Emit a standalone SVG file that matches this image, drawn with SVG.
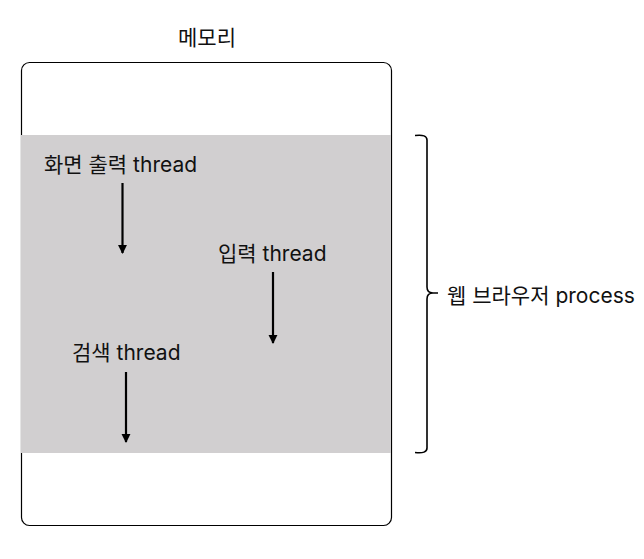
<svg xmlns="http://www.w3.org/2000/svg" width="644" height="559" viewBox="0 0 644 559">
<defs>
<style>
text{font-family:"Inter","Noto Sans CJK KR",sans-serif;font-size:21px;fill:#111}
.ln{stroke:#000;stroke-width:2.2;fill:none}
</style>
<marker id="ah" viewBox="0 0 10 10" refX="9" refY="5" markerWidth="4.2" markerHeight="4.2" orient="auto" markerUnits="strokeWidth"><path d="M0,0L10,5L0,10z" fill="#000"/></marker>
</defs>
<rect width="644" height="559" fill="#fff"/>
<g id="memory">
<rect x="21.5" y="62.5" width="370" height="463" rx="8" fill="#fff" stroke="#000" stroke-width="1.2"/>
<text x="207" y="45" text-anchor="middle">메모리</text>
</g>
<g id="process">
<rect x="21" y="135" width="370" height="318" fill="#D1CFD0"/>
</g>
<g id="thread-display"><text x="44" y="172">화면 출력 thread</text></g>
<g id="thread-input"><text x="218" y="261">입력 thread</text></g>
<g id="thread-search"><text x="72" y="360">검색 thread</text></g>
<g id="connectors">
<line class="ln" x1="122.5" y1="183" x2="122.5" y2="253" marker-end="url(#ah)"/>
<line class="ln" x1="273" y1="272" x2="273" y2="343" marker-end="url(#ah)"/>
<line class="ln" x1="126" y1="372" x2="126" y2="442" marker-end="url(#ah)"/>
</g>
<g id="bracket">
<path d="M415,135.5 Q427,134 427,140 L427,287 Q427,293 433,293 L438,293 M433,293 Q427,293 427,299 L427,448 Q427,454 415,452.5" fill="none" stroke="#000" stroke-width="1.6"/>
<text x="447" y="303">웹 브라우저 process</text>
</g>
</svg>
